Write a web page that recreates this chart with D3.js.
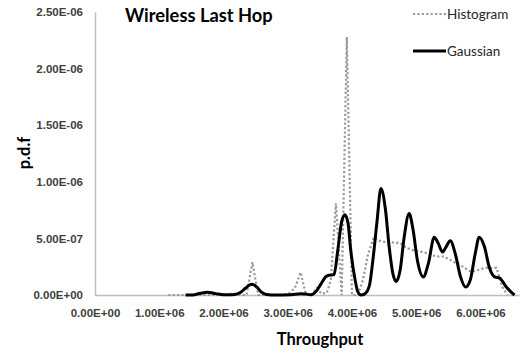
<!DOCTYPE html>
<html>
<head>
<meta charset="utf-8">
<script src="https://cdn.jsdelivr.net/npm/d3@7/dist/d3.min.js"></script>
<style>
  html, body { margin: 0; padding: 0; background: #fff; }
  svg { display: block; }
</style>
</head>
<body>
<svg id="chart" width="521" height="356"></svg>
<script>
// Throughput (bits/s) and probability density of the histogram estimate
const histX = [1.14e6, 1.23e6, 1.31e6, 1.40e6, 1.48e6, 1.56e6, 1.65e6, 1.73e6, 1.81e6, 1.90e6,
  1.98e6, 2.06e6, 2.15e6, 2.26e6, 2.36e6, 2.45e6, 2.54e6, 2.64e6, 2.73e6, 2.83e6,
  2.92e6, 3.02e6, 3.11e6, 3.20e6, 3.28e6, 3.37e6, 3.45e6, 3.53e6, 3.61e6, 3.67e6,
  3.75e6, 3.84e6, 3.92e6, 4.00e6, 4.09e6, 4.17e6, 4.25e6, 4.34e6, 4.42e6, 4.50e6,
  4.59e6, 4.67e6, 4.75e6, 4.84e6, 4.92e6, 5.00e6, 5.09e6, 5.17e6, 5.25e6, 5.34e6,
  5.42e6, 5.50e6, 5.59e6, 5.67e6, 5.75e6, 5.84e6, 5.92e6, 6.00e6, 6.09e6, 6.17e6,
  6.25e6, 6.34e6, 6.42e6];
const histY = [0, 0, 0, 0, 0, 0, 0, 0, 0, 0,
  0, 0, 1.5e-8, 0, 0, 2.9e-7, 0, 0, 0, 0,
  0, 1.5e-8, 6e-8, 2.0e-7, 1e-8, 0, 6e-8, 1e-8, 2e-8, 1.3e-7,
  8.1e-7, 0, 2.28e-6, 0, 0, 1.3e-7, 3.6e-7, 5.1e-7, 4.8e-7, 4.7e-7,
  4.7e-7, 4.6e-7, 4.6e-7, 4.2e-7, 4.0e-7, 3.9e-7, 3.8e-7, 3.7e-7, 3.5e-7, 3.4e-7,
  3.4e-7, 3.2e-7, 2.9e-7, 2.7e-7, 2.4e-7, 2.1e-7, 2.1e-7, 2.3e-7, 2.4e-7, 2.4e-7,
  2.4e-7, 7e-8, 0];

// Gaussian kernel density estimate
const gaussX = [1.41e6, 1.52e6, 1.64e6, 1.75e6, 1.88e6, 2.00e6, 2.14e6, 2.27e6, 2.34e6, 2.44e6,
  2.52e6, 2.59e6, 2.67e6, 2.81e6, 3.05e6, 3.20e6, 3.28e6, 3.36e6, 3.44e6, 3.52e6,
  3.59e6, 3.64e6, 3.72e6, 3.78e6, 3.84e6, 3.89e6, 3.94e6, 3.98e6, 4.05e6, 4.09e6,
  4.14e6, 4.20e6, 4.27e6, 4.33e6, 4.39e6, 4.45e6, 4.52e6, 4.58e6, 4.64e6, 4.69e6,
  4.75e6, 4.81e6, 4.89e6, 4.95e6, 5.02e6, 5.11e6, 5.19e6, 5.28e6, 5.34e6, 5.41e6,
  5.47e6, 5.53e6, 5.61e6, 5.69e6, 5.77e6, 5.84e6, 5.92e6, 5.98e6, 6.06e6, 6.14e6,
  6.22e6, 6.30e6, 6.39e6, 6.47e6, 6.53e6];
const gaussY = [0, 0, 1.5e-8, 2.5e-8, 1.2e-8, 2e-9, 3e-9, 2.5e-8, 6e-8, 9.5e-8,
  7e-8, 2.5e-8, 5e-9, 0, 3e-9, 1.2e-8, 8e-9, 2e-9, 3e-8, 1.0e-7,
  1.6e-7, 1.75e-7, 1.8e-7, 4e-7, 6.5e-7, 7.1e-7, 6.3e-7, 4e-7, 1.3e-7, 3e-8,
  0, 1e-8, 8e-8, 3.3e-7, 6.5e-7, 9.4e-7, 7.6e-7, 4.2e-7, 1.8e-7, 1.2e-7,
  2.2e-7, 5e-7, 7.2e-7, 5.8e-7, 3e-7, 1.6e-7, 2.8e-7, 5.1e-7, 4.6e-7, 3.8e-7,
  4.3e-7, 4.8e-7, 3.6e-7, 1.6e-7, 7e-8, 1.3e-7, 3.7e-7, 5.1e-7, 4.3e-7, 2.4e-7,
  1.6e-7, 1.5e-7, 8e-8, 3e-8, 0];

const xTicks = [0, 1e6, 2e6, 3e6, 4e6, 5e6, 6e6];
const yTicks = [0, 5e-7, 1e-6, 1.5e-6, 2e-6, 2.5e-6];
const seriesNames = ["Histogram", "Gaussian"];

// Excel-style scientific notation: 2.50E-06
function sci(v) {
  const [m, e] = v.toExponential(2).split("e");
  const n = Math.abs(+e);
  return m + "E" + (+e < 0 ? "-" : "+") + (n < 10 ? "0" : "") + n;
}

const svg = d3.select("#chart");
const plotLeft = 95, plotRight = 519, plotTop = 12, plotBottom = 295;

const x = d3.scaleLinear().domain([0, 6.6e6]).range([plotLeft, plotRight]);
const y = d3.scaleLinear().domain([0, 2.5e-6]).range([plotBottom, plotTop]);

const axisColor = "#bfbfbf";
const labelFont = "'Liberation Sans', Arial, sans-serif";

// Axes
const gx = svg.append("g").attr("transform", `translate(0,${plotBottom})`)
  .call(d3.axisBottom(x).tickValues(xTicks).tickFormat(sci).tickSize(0).tickPadding(14));
const gy = svg.append("g").attr("transform", `translate(${plotLeft},0)`)
  .call(d3.axisLeft(y).tickValues(yTicks).tickFormat(sci).tickSize(0).tickPadding(12));
[gx, gy].forEach(g => {
  g.select(".domain").attr("stroke", axisColor).attr("stroke-width", 1.5);
  g.selectAll("text").attr("font-family", labelFont).attr("font-size", 11.5)
    .attr("font-weight", "bold").attr("fill", "#404040");
});

// Series
const histLine = d3.line().x((d, i) => x(histX[i])).y(d => y(d));
const gaussLine = d3.line().x((d, i) => x(gaussX[i])).y(d => y(d)).curve(d3.curveMonotoneX);

svg.append("path").datum(histY).attr("d", histLine)
  .attr("fill", "none").attr("stroke", "#9a9a9a").attr("stroke-width", 2.2)
  .attr("stroke-dasharray", "2.2,2.2");
svg.append("path").datum(gaussY).attr("d", gaussLine)
  .attr("fill", "none").attr("stroke", "#000").attr("stroke-width", 3)
  .attr("stroke-linejoin", "round");

// Title
svg.append("text").attr("x", 125).attr("y", 22)
  .attr("font-family", "Lato, 'Open Sans', sans-serif").attr("font-weight", "bold")
  .attr("font-size", 18.3).attr("fill", "#000").text("Wireless Last Hop");

// Axis titles
svg.append("text").attr("x", 320).attr("y", 345).attr("text-anchor", "middle")
  .attr("font-family", "Lato, 'Open Sans', sans-serif").attr("font-weight", "bold")
  .attr("font-size", 16.5).attr("fill", "#000").text("Throughput");
svg.append("text").attr("transform", "translate(30,153) rotate(-90)").attr("text-anchor", "middle")
  .attr("font-family", "Lato, 'Open Sans', sans-serif").attr("font-weight", "bold")
  .attr("font-size", 16.5).attr("fill", "#000").text("p.d.f");

// Legend
const legend = svg.append("g");
const legendY = [14, 51];
seriesNames.forEach((name, i) => {
  const ln = legend.append("line").attr("x1", 413).attr("x2", 446)
    .attr("y1", legendY[i]).attr("y2", legendY[i]);
  if (i === 0) {
    ln.attr("stroke", "#9a9a9a").attr("stroke-width", 2.2).attr("stroke-dasharray", "2.2,2.2");
  } else {
    ln.attr("stroke", "#000").attr("stroke-width", 3);
  }
  legend.append("text").attr("x", 447).attr("y", legendY[i]).attr("dy", "0.35em")
    .attr("font-family", "Lato, 'Open Sans', sans-serif").attr("font-size", 13.5)
    .attr("fill", "#262626").text(name);
});
</script>
</body>
</html>
